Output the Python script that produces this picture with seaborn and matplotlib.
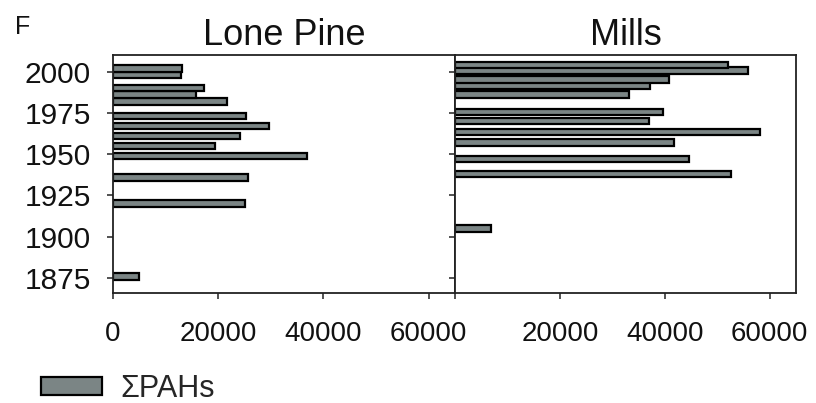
import matplotlib
matplotlib.use("Agg")
import matplotlib.pyplot as plt
import seaborn as sns
import pandas as pd
from matplotlib.patches import Patch

# Sediment-core sample dates (year) and total PAH concentrations
lone_pine_years = [2002, 1998, 1990, 1986, 1982, 1973, 1967, 1961, 1955, 1949, 1936, 1920, 1876]
lone_pine_pahs = [13100, 12900, 17300, 15700, 21600, 25300, 29600, 24200, 19400, 36900, 25600, 25000, 5000]

mills_years = [2004, 2000.5, 1995, 1991.5, 1986, 1975.5, 1970, 1963.5, 1957, 1947, 1938, 1905]
mills_pahs = [52000, 55900, 40800, 37100, 33200, 39600, 37000, 58100, 41700, 44600, 52700, 6900]

lake_names = ["Lone Pine", "Mills"]
year_ticks = [1875, 1900, 1925, 1950, 1975, 2000]
x_ticks = [0, 20000, 40000, 60000]
series_label = "ΣPAHs"
panel_letter = "F"

BAR_FILL = "#7b8585"
BAR_H = 4.0

sns.set_theme(style="ticks")
plt.rcParams["font.family"] = ["Liberation Sans", "DejaVu Sans"]

fig = plt.figure(figsize=(8.16, 4.03), dpi=100)
ax_l = fig.add_axes([0.1385, 0.273, 0.4191, 0.5905])
ax_r = fig.add_axes([0.5576, 0.273, 0.4179, 0.5905])

panels = [
    (ax_l, lone_pine_years, lone_pine_pahs),
    (ax_r, mills_years, mills_pahs),
]

for i, (ax, years, vals) in enumerate(panels):
    df = pd.DataFrame({"year": years, "pahs": vals})
    sns.barplot(data=df, x="pahs", y="year", orient="h", native_scale=True,
                color=BAR_FILL, saturation=1, edgecolor="black", linewidth=1.6,
                errorbar=None, ax=ax)
    # uniform bar thickness in years, centred on each sample date
    for patch in ax.patches:
        cy = patch.get_y() + patch.get_height() / 2
        patch.set_y(cy - BAR_H / 2)
        patch.set_height(BAR_H)
    ax.set_xlim(0, 65000)
    ax.set_ylim(1866, 2010)
    ax.set_xticks(x_ticks)
    ax.set_yticks(year_ticks)
    ax.set_xlabel("")
    ax.set_ylabel("")
    ax.set_title(lake_names[i], fontsize=26, pad=7, color="#111111")
    for sp in ax.spines.values():
        sp.set_visible(True)
        sp.set_linewidth(1.3)
        sp.set_color("#222222")
    ax.tick_params(axis="both", direction="out", length=4, width=1.1,
                   color="#222222", labelcolor="#111111")
    ax.tick_params(axis="x", pad=16, labelsize=20)
    ax.tick_params(axis="y", pad=12, labelsize=21.5)

ax_r.set_xticklabels(["", "20000", "40000", "60000"])
ax_r.set_yticklabels([])
ax_l.set_xticklabels([f"{t}" for t in x_ticks])

fig.text(0.018, 0.915, panel_letter, fontsize=18, color="#111111")

handle = Patch(facecolor=BAR_FILL, edgecolor="black", linewidth=1.6)
fig.legend([handle], [series_label], loc="center left",
           bbox_to_anchor=(0.05, 0.035), frameon=False, fontsize=22,
           borderaxespad=0, borderpad=0,
           handlelength=2.0, handleheight=0.5, handletextpad=0.6)

fig.savefig("out.png", dpi=100)
